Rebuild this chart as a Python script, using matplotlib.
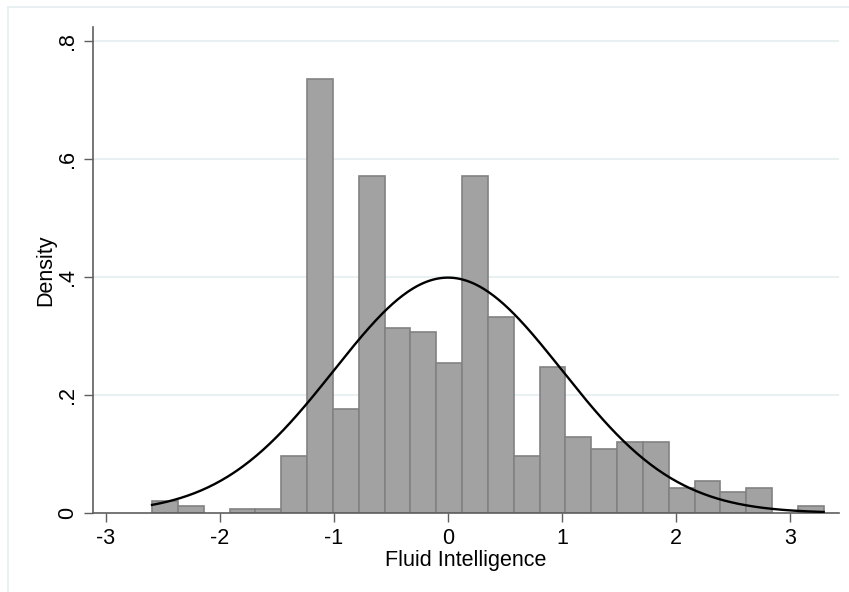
"""Histogram of fluid intelligence with a normal density overlay (Stata look)."""
import numpy as np
import matplotlib
matplotlib.use('Agg')
import matplotlib.pyplot as plt
from matplotlib.lines import Line2D

# histogram bins: first edge, bin width, density of each bin
bin_start = -2.596
bin_width = 0.2266
densities = [0.020, 0.012, 0.0, 0.007, 0.007, 0.097, 0.735, 0.176, 0.572,
             0.313, 0.307, 0.254, 0.572, 0.332, 0.097, 0.247, 0.128, 0.109,
             0.120, 0.120, 0.043, 0.054, 0.036, 0.043, 0.0, 0.012]

# normal overlay parameters
norm_mean = 0.0
norm_sd = 1.0

x_ticks = [-3, -2, -1, 0, 1, 2, 3]
y_ticks = [0, 0.2, 0.4, 0.6, 0.8]
y_ticklabels = ['0', '.2', '.4', '.6', '.8']

plt.rcParams['font.family'] = ['Liberation Sans', 'DejaVu Sans']

fig = plt.figure(figsize=(8.49, 5.92), dpi=100)
W, H = 849, 592
ax = fig.add_axes([93 / W, (H - 513) / H, (839 - 93) / W, (513 - 27) / H])

# light outer frame (only the top and left edges show in the reference)
frame_col = '#e6eef0'
fig.add_artist(Line2D([8 / W, 1], [1 - 7 / H, 1 - 7 / H], color=frame_col,
                      lw=1.2, transform=fig.transFigure))
fig.add_artist(Line2D([8 / W, 8 / W], [0, 1 - 7 / H], color=frame_col,
                      lw=1.2, transform=fig.transFigure))

lefts = bin_start + bin_width * np.arange(len(densities))
dens = np.array(densities)
keep = dens > 0
ax.bar(lefts[keep], dens[keep], width=bin_width, align='edge',
       color='#a2a2a2', edgecolor='#828282', linewidth=1.2, zorder=2)

xs = np.linspace(bin_start, bin_start + bin_width * len(densities), 400)
pdf = np.exp(-0.5 * ((xs - norm_mean) / norm_sd) ** 2) / (norm_sd * np.sqrt(2 * np.pi))
ax.plot(xs, pdf, color='black', lw=1.7, zorder=3)

ax.set_xlim(-3.114, 3.43)
ax.set_ylim(0, 0.8237)

ax.set_yticks(y_ticks)
ax.set_yticklabels(y_ticklabels, rotation=90, va='center')
ax.set_xticks(x_ticks)
ax.set_xticklabels([str(t) for t in x_ticks])

for y in y_ticks[1:]:
    ax.axhline(y, color='#e8f0f2', lw=1.5, zorder=1)

for side in ('top', 'right'):
    ax.spines[side].set_visible(False)
for side in ('left', 'bottom'):
    ax.spines[side].set_color('#5f5f5f')
    ax.spines[side].set_linewidth(1.2)

ax.tick_params(axis='both', length=6.5, width=1.0, color='#5f5f5f',
               labelsize=15.5, labelcolor='black')
ax.tick_params(axis='x', pad=4)
ax.tick_params(axis='y', pad=4)

ax.set_xlabel('Fluid Intelligence', fontsize=15.5, labelpad=1)
ax.set_ylabel('Density', fontsize=15.5, labelpad=0.5)

fig.savefig('out.png', dpi=100)
